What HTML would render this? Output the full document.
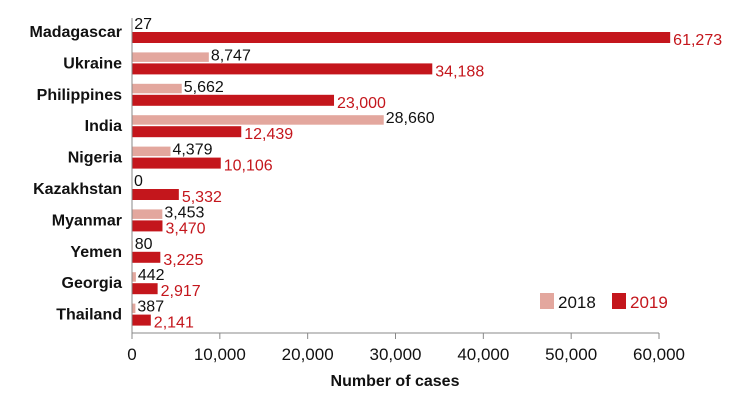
<!DOCTYPE html>
<html><head><meta charset="utf-8"><style>
body{margin:0;background:#fff;font-family:"Liberation Sans",sans-serif}
svg text{font-family:"Liberation Sans",sans-serif}
</style></head><body>
<svg id="chart" width="730" height="400"></svg>
<script>
const categories=["Madagascar","Ukraine","Philippines","India","Nigeria","Kazakhstan","Myanmar","Yemen","Georgia","Thailand"];
const values2018=[27,8747,5662,28660,4379,0,3453,80,442,387];
const values2019=[61273,34188,23000,12439,10106,5332,3470,3225,2917,2141];
const ticks=[0,10000,20000,30000,40000,50000,60000];
const NS="http://www.w3.org/2000/svg";
const svg=document.getElementById('chart');
const x0=132,x1=659,max=60000;
const xs=v=>x0+(x1-x0)*v/max;
const yc=i=>32+31.4*i;
function el(t,a,txt){const e=document.createElementNS(NS,t);for(const k in a)e.setAttribute(k,a[k]);if(txt!==undefined)e.textContent=txt;svg.appendChild(e);return e;}
const fmt=v=>v.toLocaleString('en-US');
categories.forEach((c,i)=>{
  const y=yc(i);
  const l=el('text',{x:122,y:y+5,'text-anchor':'end','font-size':16,'font-weight':'bold',fill:'#111'},c);
  
  
  const b1=el('rect',{x:x0,y:y-11,width:xs(values2018[i])-x0,height:9.5,fill:'#e3a79e'});
  
  
  const b2=el('rect',{x:x0,y:y,width:xs(values2019[i])-x0,height:11,fill:'#c4161c'});
  
  
  const t1=el('text',{x:xs(values2018[i])+2,y:y-3,'font-size':16,fill:'#111'},fmt(values2018[i]));
  
  
  const t2=el('text',{x:xs(values2019[i])+3,y:y+13,'font-size':16,fill:'#c4161c'},fmt(values2019[i]));
  
  
});
const ax=el('line',{x1:x0,y1:18,x2:x0,y2:333,stroke:'#888','stroke-width':1});


const bx=el('line',{x1:x0,y1:333,x2:x1,y2:333,stroke:'#888','stroke-width':1});


ticks.forEach(t=>{
  const tk=el('line',{x1:xs(t),y1:333,x2:xs(t),y2:339,stroke:'#888'});
  
  
  const tl=el('text',{x:xs(t),y:360,'text-anchor':'middle','font-size':17,fill:'#111'},fmt(t));
  
  
});
const title=el('text',{x:395,y:386,'text-anchor':'middle','font-size':16,'font-weight':'bold',fill:'#111'},'Number of cases');


const ls1=el('rect',{x:540,y:293,width:14,height:16,fill:'#e3a79e'});


const lt1=el('text',{x:558,y:308,'font-size':17,fill:'#111'},'2018');


const ls2=el('rect',{x:612,y:293,width:14,height:16,fill:'#c4161c'});


const lt2=el('text',{x:630,y:308,'font-size':17,fill:'#c4161c'},'2019');


</script>
</body></html>
